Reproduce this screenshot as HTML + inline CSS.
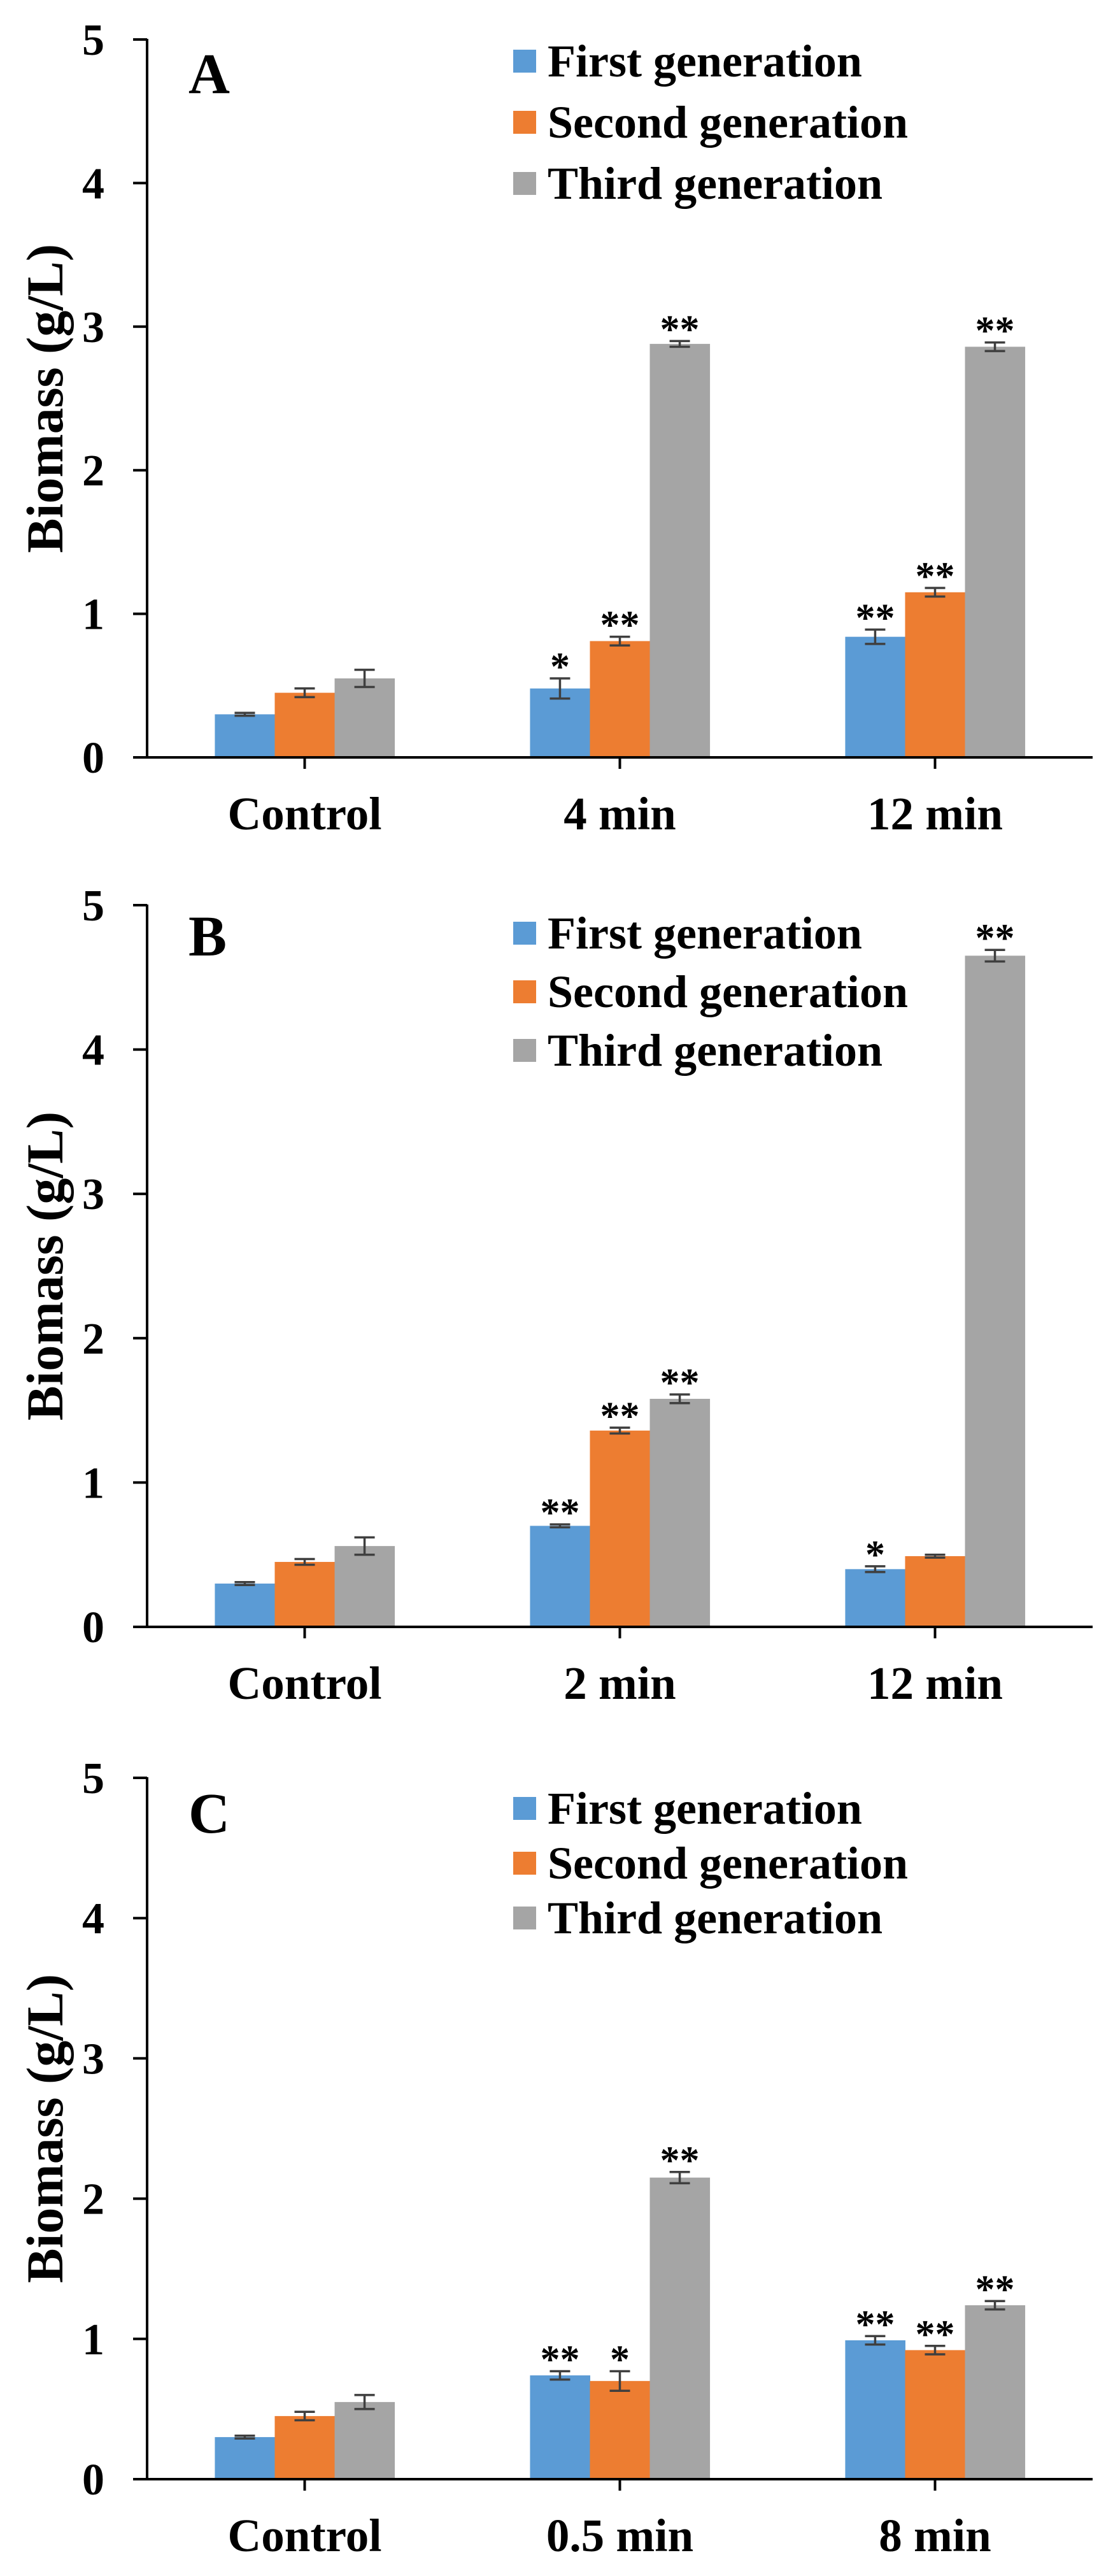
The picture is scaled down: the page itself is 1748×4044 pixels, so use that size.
<!DOCTYPE html>
<html><head><meta charset="utf-8"><style>
html,body{margin:0;padding:0;background:#fff;}
svg{display:block;}
text{font-family:"Liberation Serif","Times New Roman",serif;font-weight:bold;fill:#000;}
</style></head>
<body>
<svg id="fig" width="1748" height="4044" viewBox="0 0 1748 4044" xmlns="http://www.w3.org/2000/svg"></svg>
<script>
const seriesNames = ["First generation", "Second generation", "Third generation"];
const seriesColors = ["#5B9BD5", "#ED7D31", "#A5A5A5"];
const yTicks = [0, 1, 2, 3, 4, 5];

const catsA = ["Control", "4 min", "12 min"];
const firstA = [0.30, 0.48, 0.84];
const secondA = [0.45, 0.81, 1.15];
const thirdA = [0.55, 2.88, 2.86];
const errFirstA = [0.01, 0.07, 0.05];
const errSecondA = [0.03, 0.03, 0.03];
const errThirdA = [0.06, 0.02, 0.03];
const starsFirstA = ["", "*", "**"];
const starsSecondA = ["", "**", "**"];
const starsThirdA = ["", "**", "**"];

const catsB = ["Control", "2 min", "12 min"];
const firstB = [0.30, 0.70, 0.40];
const secondB = [0.45, 1.36, 0.49];
const thirdB = [0.56, 1.58, 4.65];
const errFirstB = [0.01, 0.01, 0.02];
const errSecondB = [0.02, 0.02, 0.01];
const errThirdB = [0.06, 0.03, 0.04];
const starsFirstB = ["", "**", "*"];
const starsSecondB = ["", "**", ""];
const starsThirdB = ["", "**", "**"];

const catsC = ["Control", "0.5 min", "8 min"];
const firstC = [0.30, 0.74, 0.99];
const secondC = [0.45, 0.70, 0.92];
const thirdC = [0.55, 2.15, 1.24];
const errFirstC = [0.01, 0.03, 0.03];
const errSecondC = [0.03, 0.07, 0.03];
const errThirdC = [0.05, 0.04, 0.03];
const starsFirstC = ["", "**", "**"];
const starsSecondC = ["", "*", "**"];
const starsThirdC = ["", "**", "**"];

const NS = "http://www.w3.org/2000/svg";
const svg = document.getElementById("fig");
function mk(tag, attrs, parent, txt) {
  const e = document.createElementNS(NS, tag);
  for (const k in attrs) e.setAttribute(k, attrs[k]);
  if (txt !== undefined) e.textContent = txt;
  parent.appendChild(e);
  return e;
}

function panel(letter, cfg, cats, vals, errs, stars) {
  const g = mk("g", {}, svg);
  
  
  const x0 = 231, x1 = 1716, yTop = cfg.yTop, yBot = cfg.yBot;
  const yScale = v => yBot - (v / 5) * (yBot - yTop);
  const band = (x1 - x0) / cats.length;
  const bw = band * 0.19;
  const xCenter = i => x0 + band * (i + 0.5);

  const ya = mk("line", {x1: x0, y1: yTop - 1, x2: x0, y2: yBot, stroke: "#000", "stroke-width": 4}, g);
  
  
  yTicks.forEach(t => {
    const y = yScale(t);
    const tk = mk("line", {x1: 209, y1: y, x2: x0, y2: y, stroke: "#000", "stroke-width": 4}, g);
    
    
    const tl = mk("text", {x: 164, y: y + 24, "font-size": 70, "text-anchor": "end"}, g, String(t));
    
    
  });
  const yt = mk("text", {x: 0, y: 0, "font-size": 82, "text-anchor": "middle",
    transform: "translate(98," + ((yTop + yBot) / 2) + ") rotate(-90)"}, g, "Biomass (g/L)");
  
  

  for (let s = 0; s < 3; s++) {
    for (let i = 0; i < cats.length; i++) {
      const bx = xCenter(i) - 1.5 * bw + s * bw;
      const yv = yScale(vals[s][i]);
      const r = mk("rect", {x: bx, y: yv, width: bw + 0.5, height: yBot - yv, fill: seriesColors[s]}, g);
      
      
      const cx = bx + bw / 2;
      const eTop = yScale(vals[s][i] + errs[s][i]);
      const eBot = yScale(vals[s][i] - errs[s][i]);
      const eb = mk("path", {d: "M" + cx + " " + eTop + "V" + eBot + "M" + (cx - 16) + " " + eTop + "H" + (cx + 16) + "M" + (cx - 16) + " " + eBot + "H" + (cx + 16),
        stroke: "#3f3f3f", "stroke-width": 3.5, fill: "none"}, g);
      
      
      if (stars[s][i]) {
        const st = mk("text", {x: cx, y: eTop + 2, "font-size": 62, "text-anchor": "middle", "font-weight": "normal"}, g, stars[s][i]);
        
        
      }
    }
  }

  const xa = mk("line", {x1: 209, y1: yBot, x2: x1, y2: yBot, stroke: "#000", "stroke-width": 4}, g);
  
  
  cats.forEach((c, i) => {
    const xt = mk("line", {x1: xCenter(i), y1: yBot, x2: xCenter(i), y2: yBot + 18, stroke: "#000", "stroke-width": 4}, g);
    
    
    const xl = mk("text", {x: xCenter(i), y: yBot + 113, "font-size": 73, "text-anchor": "middle"}, g, c);
    
    
  });

  const pl = mk("text", {x: 296, y: cfg.letterY, "font-size": 90}, g, letter);
  
  

  for (let s = 0; s < 3; s++) {
    const cy = cfg.legY + s * cfg.legGap;
    const sw = mk("rect", {x: 806, y: cy - 17, width: 36, height: 36, fill: seriesColors[s]}, g);
    
    
    const lt = mk("text", {x: 860, y: cy + 25, "font-size": 72}, g, seriesNames[s]);
    
    
  }
}

panel("A", {yTop: 62, yBot: 1189, letterY: 146, legY: 95, legGap: 96}, catsA,
  [firstA, secondA, thirdA], [errFirstA, errSecondA, errThirdA], [starsFirstA, starsSecondA, starsThirdA]);
panel("B", {yTop: 1421, yBot: 2554, letterY: 1500, legY: 1464, legGap: 92}, catsB,
  [firstB, secondB, thirdB], [errFirstB, errSecondB, errThirdB], [starsFirstB, starsSecondB, starsThirdB]);
panel("C", {yTop: 2791, yBot: 3892, letterY: 2877, legY: 2838, legGap: 86}, catsC,
  [firstC, secondC, thirdC], [errFirstC, errSecondC, errThirdC], [starsFirstC, starsSecondC, starsThirdC]);
</script>
</body></html>
